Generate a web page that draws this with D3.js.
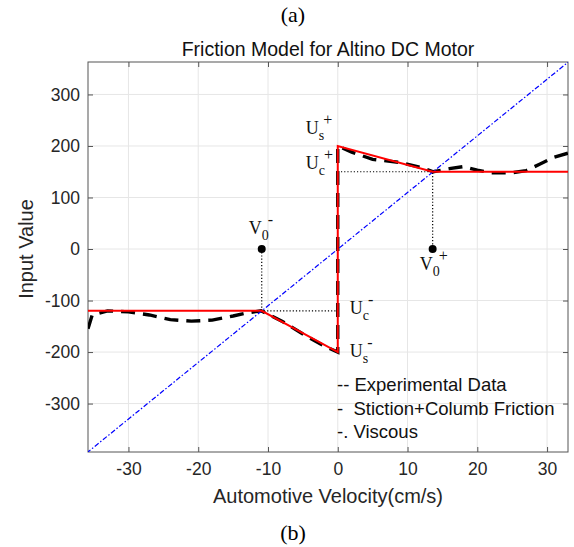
<!DOCTYPE html>
<html>
<head>
<meta charset="utf-8">
<script src="https://cdn.jsdelivr.net/npm/d3@7"></script>
<style>
  body { margin: 0; background: #fff; }
  svg { display: block; }
  .tick text { font-family: "Liberation Sans", Arial, sans-serif; font-size: 17.5px; fill: #262626; }
  .sym { font-family: "Liberation Serif", "DejaVu Serif", serif; fill: #111; }
</style>
</head>
<body>
<svg width="574" height="547"></svg>
<script>
// axis limits and ticks
var xLimits = [-35.8, 33];
var yLimits = [-394, 363];
var xTicks = [-30, -20, -10, 0, 10, 20, 30];
var yTicks = [-300, -200, -100, 0, 100, 200, 300];

// experimental data (velocity cm/s, input)
var expVel = [-35.8, -35.2, -33, -30, -27, -24, -21, -18, -15, -13, -11, -8, -5, -2, 0, 0, 2, 5, 9, 12, 13.7, 16, 18, 20, 22, 25, 27, 29, 31, 33];
var expInput = [-155, -128, -120, -122, -128, -137, -140, -138, -130, -124, -120, -140, -165, -188, -200, 200, 188, 174, 168, 158, 150, 156, 160, 153, 148, 148, 152, 165, 178, 186];

// stiction + coulomb friction model
var modelVel = [-36, -10.9, 0, 0, 13.6, 33];
var modelInput = [-120, -120, -200, 200, 150, 150];

// viscous line
var viscVel = [-36, 33.5];
var viscInput = [-396, 368];

// marked points
var v0Minus = [-10.9, 0];
var v0Plus = [13.6, 0];
var ucMinus = -120, ucPlus = 150;

var legendLines = ["-- Experimental Data", "-  Stiction+Columb Friction", "-. Viscous"];

var svg = d3.select("svg");
var pLeft = 88, pRight = 568, pTop = 62, pBottom = 452;

var x = d3.scaleLinear().domain(xLimits).range([pLeft, pRight]);
var y = d3.scaleLinear().domain(yLimits).range([pBottom, pTop]);
var fmt = function(d) { return String(d); };

svg.append("defs").append("clipPath").attr("id", "clip")
  .append("rect").attr("x", pLeft).attr("y", pTop)
  .attr("width", pRight - pLeft).attr("height", pBottom - pTop);

// grid
var grid = svg.append("g");
grid.selectAll(".gx").data(xTicks).enter().append("line")
  .attr("x1", function(d) { return x(d); }).attr("x2", function(d) { return x(d); })
  .attr("y1", pTop).attr("y2", pBottom)
  .attr("stroke", "#e6e6e6").attr("stroke-width", 1);
grid.selectAll(".gy").data(yTicks).enter().append("line")
  .attr("y1", function(d) { return y(d); }).attr("y2", function(d) { return y(d); })
  .attr("x1", pLeft).attr("x2", pRight)
  .attr("stroke", "#e6e6e6").attr("stroke-width", 1);

// axes
svg.append("g").attr("transform", "translate(0," + pBottom + ")")
  .call(d3.axisBottom(x).tickValues(xTicks).tickFormat(fmt).tickSizeInner(-5).tickSizeOuter(0).tickPadding(11));
svg.append("g").attr("transform", "translate(" + pLeft + ",0)")
  .call(d3.axisLeft(y).tickValues(yTicks).tickFormat(fmt).tickSizeInner(-5).tickSizeOuter(0).tickPadding(8));
svg.append("g").attr("transform", "translate(0," + pTop + ")")
  .call(d3.axisTop(x).tickValues(xTicks).tickSizeInner(-5).tickSizeOuter(0).tickFormat(""));
svg.append("g").attr("transform", "translate(" + pRight + ",0)")
  .call(d3.axisRight(y).tickValues(yTicks).tickSizeInner(-5).tickSizeOuter(0).tickFormat(""));
svg.selectAll(".domain").remove();
svg.selectAll(".tick line").attr("stroke", "#555");

svg.append("rect").attr("x", pLeft).attr("y", pTop)
  .attr("width", pRight - pLeft).attr("height", pBottom - pTop)
  .attr("fill", "none").attr("stroke", "#555").attr("stroke-width", 1);

var plot = svg.append("g").attr("clip-path", "url(#clip)");
var line = d3.line().x(function(d) { return x(d[0]); }).y(function(d) { return y(d[1]); });

// dotted guide lines
var guides = [
  [[v0Minus[0], v0Minus[1]], [v0Minus[0], ucMinus], [0, ucMinus]],
  [[0, ucPlus], [v0Plus[0], ucPlus], [v0Plus[0], v0Plus[1]]]
];
plot.selectAll(".guide").data(guides).enter().append("path")
  .attr("d", line).attr("fill", "none")
  .attr("stroke", "#000").attr("stroke-width", 1.2).attr("stroke-dasharray", "1.2,2");

// experimental
plot.append("path").datum(d3.zip(expVel, expInput))
  .attr("d", line).attr("fill", "none")
  .attr("stroke", "#000").attr("stroke-width", 3.4)
  .attr("stroke-dasharray", "14,8");

// viscous
plot.append("path").datum(d3.zip(viscVel, viscInput))
  .attr("d", line).attr("fill", "none")
  .attr("stroke", "#0000ff").attr("stroke-width", 1.2)
  .attr("stroke-dasharray", "5,2,1.5,2");

// model
plot.append("path").datum(d3.zip(modelVel, modelInput))
  .attr("d", line).attr("fill", "none")
  .attr("stroke", "#ff0000").attr("stroke-width", 2);

// markers
svg.selectAll(".dot").data([v0Minus, v0Plus]).enter().append("circle")
  .attr("cx", function(d) { return x(d[0]); }).attr("cy", function(d) { return y(d[1]); })
  .attr("r", 4).attr("fill", "#000");

// symbol labels
function symLabel(px, py, main, sub, sup) {
  var t = svg.append("text").attr("class", "sym").attr("x", px).attr("y", py).attr("font-size", 18);
  t.append("tspan").text(main);
  t.append("tspan").attr("font-size", 14).attr("dy", 6).text(sub);
  t.append("tspan").attr("font-size", 16).attr("dx", -1).attr("dy", -15).text(sup);
}
symLabel(x(0) - 32, y(200) - 12, "U", "s", "+");
symLabel(x(0) - 32, y(ucPlus) - 3, "U", "c", "+");
symLabel(x(0) + 12, y(ucMinus) + 3, "U", "c", "-");
symLabel(x(0) + 12, y(-200) + 5, "U", "s", "-");
symLabel(x(v0Minus[0]) - 13, y(0) - 15, "V", "0", "-");
symLabel(x(v0Plus[0]) - 13, y(0) + 21, "V", "0", "+");

// legend text
svg.selectAll(".leg").data(legendLines).enter().append("text")
  .attr("x", 337).attr("y", function(d, i) { return 391 + i * 23.5; })
  .attr("font-family", "Liberation Sans, Arial, sans-serif").attr("font-size", 18.5)
  .attr("fill", "#111").style("white-space", "pre")
  .text(function(d) { return d; });

// titles
svg.append("text").attr("x", (pLeft + pRight) / 2).attr("y", 56).attr("text-anchor", "middle")
  .attr("font-family", "Liberation Sans, Arial, sans-serif").attr("font-size", 19.5).attr("fill", "#111")
  .text("Friction Model for Altino DC Motor");
svg.append("text").attr("x", (pLeft + pRight) / 2).attr("y", 503).attr("text-anchor", "middle")
  .attr("font-family", "Liberation Sans, Arial, sans-serif").attr("font-size", 20).attr("fill", "#262626")
  .text("Automotive Velocity(cm/s)");
svg.append("text").attr("transform", "translate(33," + y(0) + ") rotate(-90)").attr("text-anchor", "middle")
  .attr("font-family", "Liberation Sans, Arial, sans-serif").attr("font-size", 20).attr("fill", "#262626")
  .text("Input Value");
svg.append("text").attr("x", 293).attr("y", 22).attr("text-anchor", "middle")
  .attr("font-family", "Liberation Serif, Times New Roman, serif").attr("font-size", 22).attr("fill", "#000")
  .text("(a)");
svg.append("text").attr("x", 293).attr("y", 540).attr("text-anchor", "middle")
  .attr("font-family", "Liberation Serif, Times New Roman, serif").attr("font-size", 22).attr("fill", "#000")
  .text("(b)");
</script>
</body>
</html>
